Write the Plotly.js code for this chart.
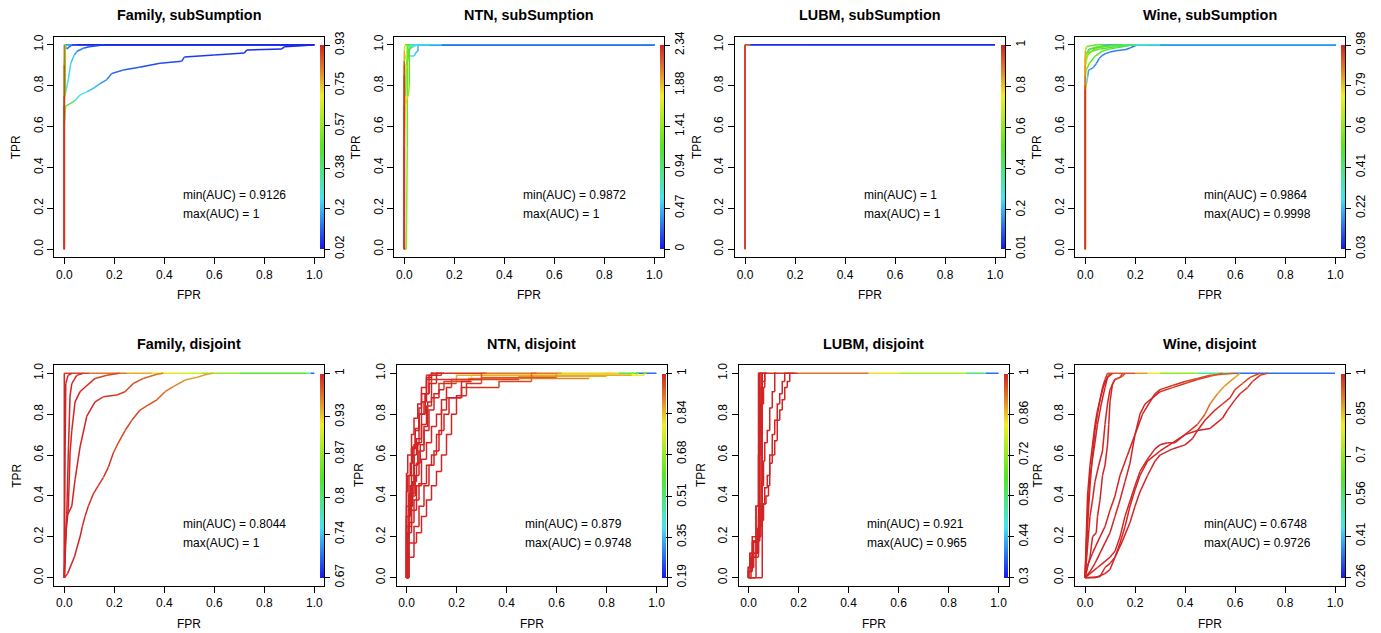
<!DOCTYPE html>
<html><head><meta charset="utf-8">
<script src="https://cdn.plot.ly/plotly-3.0.1.min.js"></script>
<style>html,body{margin:0;padding:0;background:#fff}#chart{width:1381px;height:633px}</style>
</head><body><div id="chart"></div>
<script>
// ---------------- data ----------------
const panelTitles = ['Family, subSumption','NTN, subSumption','LUBM, subSumption','Wine, subSumption',
                     'Family, disjoint','NTN, disjoint','LUBM, disjoint','Wine, disjoint'];
const axisTicks = [0,0.2,0.4,0.6,0.8,1];
const axisTickText = ['0.0','0.2','0.4','0.6','0.8','1.0'];

// Family, subSumption
const famSubLabels = [0.02,0.2,0.38,0.57,0.75,0.93];
const famSubAUC = [0.9126, 1];
const famSubFPR = [
 [0,0,0,0.005,0.05,1],
 [0,0,0.004,0.004,0.008,0.03,1],
 [0,0,0.002,0.008,0.016,0.026,0.04,0.05,0.076,0.1,0.13,0.16,1],
 [0,0,0.005,0.02,0.043,0.063,0.09,0.12,0.143,0.17,0.19,0.236,0.3,0.383,0.47,0.48,0.6,0.72,0.73,0.87,0.88,0.95,1],
 [0,0,0.004,0.01,0.02,0.03,1]];
const famSubTPR = [
 [0,0.7,1,1,1,1],
 [0,0.75,0.75,0.98,1,1,1],
 [0,0.7,0.75,0.78,0.83,0.91,0.95,0.967,0.983,0.99,0.995,1,1],
 [0,0.6,0.70,0.71,0.727,0.755,0.77,0.79,0.81,0.83,0.86,0.877,0.89,0.91,0.92,0.94,0.95,0.96,0.975,0.98,0.99,0.995,1],
 [0,0.9,0.99,0.98,0.99,1,1]];
const famSubCut = [
 [0.93,0.9,0.82,0.1,0.05,0.02],
 [0.93,0.9,0.5,0.48,0.3,0.06,0.02],
 [0.93,0.88,0.3,0.27,0.25,0.22,0.19,0.16,0.12,0.09,0.07,0.05,0.02],
 [0.93,0.6,0.5,0.42,0.33,0.27,0.24,0.2,0.17,0.15,0.13,0.11,0.09,0.08,0.07,0.07,0.06,0.05,0.05,0.04,0.04,0.03,0.02],
 [0.93,0.85,0.2,0.12,0.1,0.06,0.02]];

// NTN, subSumption
const ntnSubLabels = [0,0.47,0.94,1.41,1.88,2.34];
const ntnSubAUC = [0.9872, 1];
const ntnSubFPR = [
 [0,0,0,0.003,0.02,0.15,1],
 [0,0.008,0.012,0.012,0.02,0.1,1],
 [0,0,0.005,0.008,0.015,0.018,0.02,0.03,0.1,1],
 [0,0,0.008,0.015,0.02,0.04,0.045,0.055,0.055,0.1,1],
 [0,0,0.01,0.02,0.035,0.05,1],
 [0,0,0.015,0.02,0.02,0.03,1]];
const ntnSubTPR = [
 [0,0.9,0.97,1,1,1,1],
 [0,0,0.5,1,1,1,1],
 [0,0.5,0.75,0.9,0.93,0.97,1,1,1,1],
 [0,0.85,0.9,0.95,0.945,0.945,0.96,0.97,1,1,1],
 [0,0.92,0.96,0.98,0.99,1,1],
 [0,0.7,0.75,0.8,0.97,1,1]];
const ntnSubCut = [
 [2.34,2.1,1.8,1.4,0.8,0.3,0],
 [2.34,1.4,1.3,1.15,0.9,0.2,0],
 [2.34,2.2,1.4,1.3,1.2,1.1,1.0,0.6,0.2,0],
 [2.34,2.2,1.4,0.7,0.55,0.5,0.48,0.45,0.4,0.1,0],
 [2.34,2.0,1.2,1.0,0.8,0.4,0],
 [2.34,2.2,1.5,1.25,1.1,0.7,0]];

// LUBM, subSumption
const lubmSubLabels = [0.01,0.2,0.4,0.6,0.8,1];
const lubmSubAUC = [1, 1];
const lubmSubFPR = [[0,0,0.02,0.021,0.25,1],[0,0,0.01,0.011,1]];
const lubmSubTPR = [[0,1,1,1,1,1],[0,1,1,1,1]];
const lubmSubCut = [[1,0.96,0.9,0.05,0.03,0.01],[1,0.95,0.88,0.04,0.01]];

// Wine, subSumption
const wineSubLabels = [0.03,0.22,0.41,0.6,0.79,0.98];
const wineSubAUC = [0.9864, 0.9998];
const wineSubFPR = [
 [0,0,0,0,0.004,0.02,0.05,0.1,0.15,0.2,0.3,1],
 [0,0,0.005,0.01,0.013,0.02,0.033,0.045,0.056,0.07,0.083,0.1,0.123,0.163,0.18,0.203,0.25,1],
 [0,0,0.005,0.017,0.04,0.07,0.1,0.15,0.19,0.25,1],
 [0,0,0.01,0.03,0.05,0.1,0.15,0.3,1],
 [0,0,0.01,0.03,0.06,0.12,0.2,1],
 [0,0,0.006,0.01,0.02,0.04,0.06,0.1,1],
 [0,0,0.005,0.02,0.05,0.08,1]];
const wineSubTPR = [
 [0,0.8,0.88,0.93,0.96,0.98,0.99,0.995,1,1,1,1],
 [0,0.78,0.81,0.845,0.876,0.88,0.89,0.91,0.934,0.95,0.958,0.965,0.971,0.977,0.985,0.998,1,1],
 [0,0.85,0.88,0.91,0.945,0.97,0.98,0.99,1,1,1],
 [0,0.9,0.95,0.975,0.985,0.995,1,1,1],
 [0,0.92,0.96,0.97,0.98,0.99,1,1],
 [0,0.94,0.955,0.97,0.98,0.985,0.99,1,1],
 [0,0.97,0.99,0.995,1,1,1]];
const wineSubCut = [
 [0.98,0.9,0.75,0.62,0.56,0.53,0.51,0.49,0.45,0.28,0.12,0.03],
 [0.98,0.92,0.3,0.19,0.18,0.17,0.17,0.16,0.16,0.16,0.15,0.15,0.15,0.14,0.14,0.13,0.12,0.03],
 [0.98,0.76,0.58,0.55,0.53,0.51,0.49,0.47,0.42,0.2,0.03],
 [0.98,0.7,0.56,0.54,0.52,0.5,0.45,0.15,0.03],
 [0.98,0.66,0.56,0.53,0.51,0.48,0.3,0.03],
 [0.98,0.62,0.3,0.2,0.16,0.14,0.12,0.1,0.03],
 [0.98,0.65,0.58,0.55,0.5,0.4,0.03]];

// Family, disjoint
const famDisLabels = [0.67,0.74,0.8,0.87,0.93,1];
const famDisAUC = [0.8044, 1];
const famDisFPR = [
 [0,0.013,0.04,0.063,0.072,0.083,0.096,0.116,0.136,0.156,0.176,0.196,0.216,0.243,0.27,0.303,0.336,0.37,0.403,0.436,0.483,0.53,0.57,0.596],
 [0,0.003,0.01,0.03,0.043,0.063,0.09,0.123,0.156,0.21,0.243,0.276,0.316,0.37,0.396],
 [0,0.005,0.016,0.023,0.03,0.043,0.063,0.09,0.123,0.17,0.22],
 [0,0.005,0.01,0.016,0.023,0.03,0.05,0.076],
 [0,0.003,0.006,0.015,0.03],
 [0,0,0.1,0.25,0.35,0.45,0.55,0.7,0.97,0.985,1]];
const famDisTPR = [
 [0,0.02,0.1,0.2,0.25,0.3,0.35,0.41,0.45,0.49,0.54,0.61,0.66,0.72,0.77,0.82,0.845,0.87,0.91,0.935,0.967,0.98,0.995,1],
 [0,0.15,0.3,0.35,0.48,0.64,0.79,0.86,0.885,0.894,0.91,0.95,0.975,0.995,1],
 [0,0.2,0.34,0.61,0.72,0.86,0.91,0.94,0.975,0.99,1],
 [0,0.15,0.31,0.61,0.89,0.95,0.99,1],
 [0,0.6,0.95,0.99,1],
 [0,1,1,1,1,1,1,1,1,1,1]];
const famDisCut = [
 [1,1,1,1,1,1,0.995,0.995,0.99,0.99,0.99,0.99,0.985,0.985,0.985,0.98,0.98,0.975,0.97,0.965,0.955,0.95,0.945,0.94],
 [1,1,1,1,1,1,1,0.995,0.99,0.99,0.985,0.98,0.975,0.97,0.965],
 [1,1,1,1,1,1,1,0.995,0.99,0.985,0.98],
 [1,1,1,1,1,1,0.995,0.99],
 [1,1,1,1,0.995],
 [1,1,0.975,0.955,0.935,0.915,0.885,0.85,0.82,0.72,0.67]];

// NTN, disjoint (step curves)
const ntnDisLabels = [0.19,0.35,0.51,0.68,0.84,1];
const ntnDisAUC = [0.879, 0.9748];
const ntnDisFPR = [
 [0,0.005,0.02,0.03,0.045,0.06,0.08,0.1,0.3,0.6,0.85,0.92,1],
 [0,0.01,0.03,0.045,0.06,0.075,0.09,0.12,0.14],
 [0,0.005,0.04,0.06,0.08,0.1,0.12,0.14,0.16,0.18,0.2,0.22,0.24,0.37,0.5,0.52],
 [0,0.015,0.03,0.04,0.06,0.08,0.1,0.13,0.15,0.25,0.73,0.95,0.96],
 [0,0.02,0.035,0.05,0.07,0.09,0.11,0.13,0.2,0.9,0.91],
 [0,0.01,0.025,0.04,0.055,0.07,0.085,0.1,0.12,0.125],
 [0,0.03,0.05,0.07,0.09,0.11,0.13,0.15,0.17,0.2,0.24,0.3,0.6,0.62],
 [0,0.01,0.02,0.03,0.05,0.07,0.08,0.1,0.11],
 [0,0.005,0.02,0.04,0.06,0.08,0.1,0.12,0.14,0.16,0.18,0.45,0.8,0.82],
 [0,0.01,0.02,0.035,0.05,0.06,0.08,0.14,0.15],
 [0,0.01,0.03,0.05,0.08,0.1,0.12,0.14,0.16,0.22,0.26,0.92,0.93],
 [0,0.005,0.015,0.025,0.035,0.05,0.06,0.075,0.09,0.1,0.3,0.32]];
const ntnDisTPR = [
 [0,0.51,0.6,0.7,0.78,0.85,0.9,0.97,1,1,1,1,1],
 [0,0.2,0.41,0.55,0.66,0.8,0.9,0.99,1],
 [0,0,0.17,0.22,0.3,0.38,0.45,0.52,0.6,0.7,0.8,0.88,0.93,0.93,0.96,1],
 [0,0.3,0.45,0.6,0.68,0.75,0.84,0.88,0.92,0.96,0.975,0.99,1],
 [0,0.25,0.4,0.5,0.62,0.72,0.82,0.9,0.95,0.99,1],
 [0,0,0.35,0.47,0.56,0.65,0.74,0.86,0.95,1],
 [0,0.1,0.25,0.35,0.45,0.55,0.62,0.72,0.8,0.88,0.89,0.95,0.98,1],
 [0,0.3,0.4,0.5,0.65,0.8,0.86,0.98,1],
 [0,0,0.22,0.33,0.45,0.58,0.66,0.74,0.8,0.87,0.93,0.97,0.985,1],
 [0,0.35,0.5,0.63,0.73,0.83,0.93,0.99,1],
 [0,0,0.27,0.38,0.46,0.55,0.6,0.7,0.82,0.88,0.96,0.99,1],
 [0,0.42,0.5,0.56,0.64,0.72,0.8,0.86,0.9,0.95,0.97,1]];
const ntnDisCut = [
 [1,1,1,1,1,1,1,1,0.95,0.88,0.78,0.35,0.19],
 [1,1,1,1,1,1,1,1,1],
 [1,1,1,1,1,1,1,1,1,1,1,1,1,0.98,0.95,0.92],
 [1,1,1,1,1,1,1,1,1,0.93,0.87,0.72,0.6],
 [1,1,1,1,1,1,1,1,0.98,0.75,0.6],
 [1,1,1,1,1,1,1,1,1,1],
 [1,1,1,1,1,1,1,1,1,1,1,0.98,0.9,0.85],
 [1,1,1,1,1,1,1,1,1],
 [1,1,1,1,1,1,1,1,1,1,1,0.92,0.8,0.7],
 [1,1,1,1,1,1,1,0.98,0.98],
 [1,1,1,1,1,1,1,1,1,1,0.99,0.6,0.45],
 [1,1,1,1,1,1,1,1,1,1,0.96,0.95]];

// LUBM, disjoint (step curves)
const lubmDisLabels = [0.3,0.44,0.58,0.72,0.86,1];
const lubmDisAUC = [0.921, 0.965];
const lubmDisFPR = [
 [0,0.005,0.01,0.02,0.03,0.04,0.045,0.2,0.48,0.6,0.87,0.95,1],
 [0,0.01,0.015,0.035,0.045,0.05],
 [0,0.02,0.035,0.05,0.06],
 [0,0.03,0.04,0.055,0.06],
 [0,0.055,0.06],
 [0,0.01,0.02,0.04,0.043,0.05,0.06,0.065,0.07],
 [0,0.015,0.03,0.045,0.06,0.07,0.08,0.085,0.095,0.105,0.115,0.125,0.135,0.145,0.155,0.165,0.185],
 [0,0.02,0.04,0.05,0.065,0.075,0.085,0.095,0.105,0.115,0.125,0.135,0.145,0.165],
 [0,0.01,0.03,0.045,0.055,0.06,0.065,0.075,0.085,0.095,0.105,0.112],
 [0,0.005,0.015,0.03,0.04,0.05,0.055,0.065,0.075]];
const lubmDisTPR = [
 [0,0.03,0.03,0.1,0.18,0.35,1,1,1,1,1,1,1],
 [0,0,0.036,0.174,0.24,1],
 [0,0.05,0.12,0.2,1],
 [0,0,0.1,0.3,1],
 [0,0,1],
 [0,0.05,0.12,0.18,0.36,0.7,0.85,0.93,1],
 [0,0.03,0.1,0.18,0.28,0.36,0.4,0.45,0.56,0.6,0.67,0.77,0.82,0.87,0.93,0.96,1],
 [0,0.05,0.12,0.25,0.36,0.44,0.5,0.6,0.7,0.77,0.85,0.9,0.96,1],
 [0,0.03,0.1,0.2,0.3,0.45,0.57,0.66,0.72,0.83,0.91,1],
 [0,0.05,0.12,0.2,0.35,0.6,0.93,0.96,1]];
const lubmDisCut = [
 [1,1,1,1,1,1,1,0.98,0.88,0.8,0.7,0.45,0.3],
 [1,1,1,1,1,1],
 [1,1,1,1,1],
 [1,1,1,1,1],
 [1,1,1],
 [1,1,1,1,1,1,1,1,1],
 [1,1,1,1,1,1,1,1,1,1,1,1,1,1,1,1,1],
 [1,1,1,1,1,1,1,1,1,1,1,1,1,1],
 [1,1,1,1,1,1,1,1,1,1,1,1],
 [1,1,1,1,1,1,1,1,1]];

// Wine, disjoint
const wineDisLabels = [0.26,0.41,0.56,0.7,0.85,1];
const wineDisAUC = [0.6748, 0.9726];
const wineDisFPR = [
 [0,0.005,0.01,0.02,0.03,0.04,0.05,0.06,0.07,0.08,0.09,0.2,0.25,0.3,0.45,0.6,1],
 [0,0.01,0.02,0.035,0.05,0.065,0.08,0.09,0.1],
 [0,0.01,0.02,0.03,0.04,0.055,0.07,0.08,0.09,0.1,0.12,0.14,0.15],
 [0,0.02,0.03,0.045,0.05,0.06,0.07,0.08,0.09,0.095,0.1,0.11,0.12,0.15,0.16],
 [0,0.005,0.01,0.02,0.03,0.04,0.05,0.06,0.075,0.09,0.11],
 [0,0.02,0.04,0.06,0.08,0.1,0.12,0.14,0.16,0.18,0.2,0.22,0.24,0.27,0.3,0.35,0.4,0.45,0.5,0.55],
 [0,0.01,0.03,0.06,0.08,0.1,0.12,0.14,0.17,0.2,0.23,0.26,0.28,0.3,0.35,0.4,0.45,0.5,0.55,0.6],
 [0,0.04,0.08,0.1,0.12,0.15,0.18,0.2,0.22,0.25,0.28,0.3,0.35,0.4,0.43,0.45,0.48,0.52,0.55,0.58,0.6,0.63,0.66,0.7],
 [0,0.06,0.08,0.1,0.12,0.14,0.16,0.18,0.2,0.22,0.25,0.3,0.35,0.4,0.45,0.5,0.52,0.55,0.57,0.6,0.62,0.65,0.67,0.7,0.73],
 [0,0.02,0.05,0.08,0.1,0.12,0.14,0.16,0.2,0.22,0.25,0.28,0.3,0.33,0.36,0.4,0.45,0.48,0.5,0.53,0.56,0.6,0.62]];
const wineDisTPR = [
 [0,0.2,0.4,0.55,0.65,0.75,0.82,0.87,0.93,0.97,1,1,1,1,1,1,1],
 [0,0.3,0.5,0.62,0.75,0.85,0.93,0.98,1],
 [0,0.15,0.3,0.38,0.47,0.55,0.62,0.75,0.85,0.92,0.97,0.98,1],
 [0,0.1,0.2,0.22,0.3,0.38,0.5,0.55,0.65,0.75,0.86,0.95,0.97,0.985,1],
 [0,0.1,0.25,0.45,0.6,0.72,0.8,0.87,0.94,0.98,1],
 [0,0.03,0.07,0.12,0.17,0.22,0.3,0.38,0.47,0.56,0.7,0.8,0.85,0.88,0.91,0.93,0.95,0.97,0.985,1],
 [0,0.06,0.12,0.2,0.25,0.33,0.4,0.5,0.6,0.7,0.8,0.86,0.9,0.92,0.94,0.96,0.975,0.99,0.995,1],
 [0,0,0.02,0.04,0.1,0.18,0.27,0.35,0.42,0.5,0.57,0.6,0.63,0.65,0.68,0.72,0.77,0.82,0.85,0.88,0.92,0.95,0.98,1],
 [0,0.005,0.05,0.07,0.1,0.17,0.25,0.35,0.43,0.5,0.57,0.62,0.66,0.7,0.72,0.73,0.75,0.78,0.82,0.87,0.9,0.93,0.96,0.99,1],
 [0,0.02,0.05,0.08,0.1,0.13,0.2,0.3,0.45,0.52,0.58,0.63,0.65,0.66,0.66,0.7,0.75,0.8,0.85,0.9,0.94,0.98,1]];
const wineDisCut = [
 [1,1,1,1,1,1,1,1,1,0.99,0.98,0.93,0.84,0.78,0.62,0.42,0.26],
 [1,1,1,1,1,1,1,0.99,0.98],
 [1,1,1,1,1,1,1,1,1,0.99,0.98,0.97,0.96],
 [1,1,1,1,1,1,1,1,1,1,1,0.99,0.98,0.97,0.96],
 [1,1,1,1,1,1,1,1,1,0.99,0.98],
 [1,1,1,1,1,1,1,1,1,1,1,1,1,1,0.99,0.99,0.98,0.97,0.96,0.95],
 [1,1,1,1,1,1,1,1,1,1,1,1,1,0.99,0.99,0.98,0.97,0.96,0.95,0.94],
 [1,1,1,1,1,1,1,1,1,1,1,1,1,1,1,1,1,0.99,0.99,0.98,0.98,0.97,0.97,0.96],
 [1,1,1,1,1,1,1,1,1,1,1,1,1,1,1,1,1,1,1,1,0.99,0.99,0.98,0.98,0.97],
 [1,1,1,1,1,1,1,1,1,1,1,1,1,1,1,1,0.97,0.94,0.92,0.9,0.89,0.88,0.87]];

// ---------------- drawing ----------------
const panels = [
 {F:famSubFPR, T:famSubTPR, C:famSubCut, L:famSubLabels, A:famSubAUC, step:false},
 {F:ntnSubFPR, T:ntnSubTPR, C:ntnSubCut, L:ntnSubLabels, A:ntnSubAUC, step:false},
 {F:lubmSubFPR, T:lubmSubTPR, C:lubmSubCut, L:lubmSubLabels, A:lubmSubAUC, step:false},
 {F:wineSubFPR, T:wineSubTPR, C:wineSubCut, L:wineSubLabels, A:wineSubAUC, step:false},
 {F:famDisFPR, T:famDisTPR, C:famDisCut, L:famDisLabels, A:famDisAUC, step:false},
 {F:ntnDisFPR, T:ntnDisTPR, C:ntnDisCut, L:ntnDisLabels, A:ntnDisAUC, step:true},
 {F:lubmDisFPR, T:lubmDisTPR, C:lubmDisCut, L:lubmDisLabels, A:lubmDisAUC, step:true},
 {F:wineDisFPR, T:wineDisTPR, C:wineDisCut, L:wineDisLabels, A:wineDisAUC, step:false}];

const W = 1381, H = 633, UX = 250, UY = 204.4;
const pos = [
 {x0:64.3, y1:44.8}, {x0:404.3, y1:44.8}, {x0:745, y1:44.8}, {x0:1085.3, y1:44.8},
 {x0:64.3, y1:373.3}, {x0:406.5, y1:373.3}, {x0:748.5, y1:373.3}, {x0:1085, y1:373.3}];
const rowTitleY = [15, 343.5], rowFprY = [295, 623.5];
const FONT = 'Liberation Sans, Arial, Helvetica, sans-serif';

const stops = [[0,[22,22,238]],[0.25,[70,228,240]],[0.5,[84,230,34]],[0.75,[240,240,36]],[0.875,[224,132,40]],[1,[210,36,36]]];
const colorscale = stops.map(s => [s[0], 'rgb(' + s[1].join(',') + ')']);
function colorAt(f) {
  f = Math.max(0, Math.min(1, f));
  for (let i = 0; i < stops.length - 1; i++) {
    const a = stops[i], b = stops[i+1];
    if (f <= b[0]) {
      const t = (f - a[0]) / (b[0] - a[0]);
      const c = a[1].map((v, k) => Math.round(v + (b[1][k] - v) * t));
      return 'rgb(' + c.join(',') + ')';
    }
  }
  return 'rgb(' + stops[stops.length-1][1].join(',') + ')';
}

const NB = 48;
const traces = [];
const layout = {
  width: W, height: H, margin: {l:0, r:0, t:0, b:0},
  paper_bgcolor: '#fff', plot_bgcolor: '#fff', showlegend: false,
  annotations: []
};

panels.forEach((p, i) => {
  const k = i === 0 ? '' : String(i + 1);
  const xa = 'x' + k, ya = 'y' + k;
  const {x0, y1} = pos[i];
  const row = i < 4 ? 0 : 1;
  const cmin = p.L[0], cmax = p.L[p.L.length - 1];
  const left = x0 - 0.04 * UX, right = x0 + 1.04 * UX;
  const top = y1 - 0.04 * UY, bottom = y1 + 1.04 * UY;
  const axCommon = {
    range: [-0.04, 1.04], tickvals: axisTicks, ticktext: axisTickText,
    ticks: 'outside', ticklen: 6, tickwidth: 1, tickcolor: '#000',
    showline: true, mirror: true, linecolor: '#000', linewidth: 1,
    showgrid: false, zeroline: false, fixedrange: true,
    tickfont: {family: FONT, size: 12, color: '#000'}
  };
  layout['xaxis' + k] = Object.assign({}, axCommon, {domain: [left / W, right / W], anchor: ya});
  layout['yaxis' + k] = Object.assign({}, axCommon, {domain: [1 - bottom / H, 1 - top / H], anchor: xa, tickangle: -90});

  // bin segments by cutoff colour
  const bins = Array.from({length: NB}, () => ({x: [], y: []}));
  const allX = [], allY = [], allC = [];
  p.F.forEach((F, ci) => {
    const T = p.T[ci], C = p.C[ci];
    for (let j = 0; j < F.length; j++) { allX.push(F[j]); allY.push(T[j]); allC.push(C[j]); }
    for (let j = 0; j < F.length - 1; j++) {
      const c = (C[j] + C[j+1]) / 2;
      const b = Math.round(((c - cmin) / (cmax - cmin)) * (NB - 1));
      const bin = bins[Math.max(0, Math.min(NB - 1, b))];
      if (p.step) {
        bin.x.push(F[j], F[j], F[j+1], null);
        bin.y.push(T[j], T[j+1], T[j+1], null);
      } else {
        bin.x.push(F[j], F[j+1], null);
        bin.y.push(T[j], T[j+1], null);
      }
    }
  });
  bins.forEach((bin, b) => {
    if (!bin.x.length) return;
    traces.push({type: 'scatter', mode: 'lines', x: bin.x, y: bin.y, xaxis: xa, yaxis: ya,
      line: {color: colorAt(b / (NB - 1)), width: 1.5}, hoverinfo: 'skip', connectgaps: false});
  });

  // colour key (ROCR style) through Plotly's own colorbar
  traces.push({type: 'scatter', mode: 'markers', x: allX, y: allY, xaxis: xa, yaxis: ya, hoverinfo: 'skip',
    marker: {size: 1, opacity: 0, color: allC, cmin: cmin, cmax: cmax, colorscale: colorscale, showscale: true,
      colorbar: {thickness: 3.5, thicknessmode: 'pixels', len: UY, lenmode: 'pixels',
        x: (x0 + 1.03 * UX - 1.8) / W, xanchor: 'left', xpad: 0,
        y: 1 - (y1 + UY / 2) / H, yanchor: 'middle', ypad: 0,
        outlinewidth: 0, borderwidth: 0, bgcolor: 'rgba(0,0,0,0)',
        ticks: 'outside', ticklen: 6, tickwidth: 1, tickcolor: '#000',
        tickvals: p.L, ticktext: p.L.map(v => String(v)), tickangle: -90,
        tickfont: {family: FONT, size: 12, color: '#000'}, title: {text: ''}}}});

  // texts
  const cx = (x0 + 0.5 * UX) / W;
  layout.annotations.push(
    {xref: 'paper', yref: 'paper', x: cx, y: 1 - rowTitleY[row] / H, xanchor: 'center', yanchor: 'middle',
     text: '<b>' + panelTitles[i] + '</b>', showarrow: false, font: {family: FONT, size: 14.4, color: '#000'}},
    {xref: 'paper', yref: 'paper', x: cx, y: 1 - rowFprY[row] / H, xanchor: 'center', yanchor: 'middle',
     text: 'FPR', showarrow: false, font: {family: FONT, size: 12, color: '#000'}},
    {xref: 'paper', yref: 'paper', x: (x0 - 48) / W, y: 1 - (y1 + UY / 2) / H, xanchor: 'center', yanchor: 'middle',
     text: 'TPR', textangle: -90, showarrow: false, font: {family: FONT, size: 12, color: '#000'}},
    {xref: xa, yref: ya, x: 0.467, y: 0.265, xanchor: 'left', yanchor: 'middle',
     text: 'min(AUC) = ' + String(p.A[0]), showarrow: false, font: {family: FONT, size: 12, color: '#000'}},
    {xref: xa, yref: ya, x: 0.467, y: 0.17, xanchor: 'left', yanchor: 'middle',
     text: 'max(AUC) = ' + String(p.A[1]), showarrow: false, font: {family: FONT, size: 12, color: '#000'}}
  );
});

Plotly.newPlot('chart', traces, layout, {staticPlot: true, displayModeBar: false});
</script>
</body></html>
